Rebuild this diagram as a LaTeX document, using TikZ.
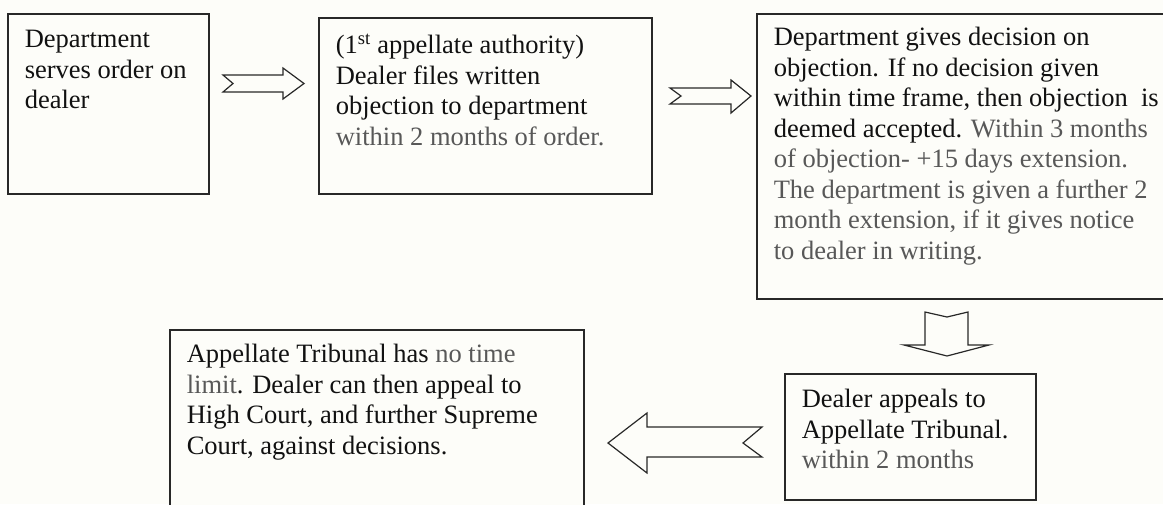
\documentclass[tikz,border=0pt]{standalone}
\usepackage{fontspec}
\setmainfont{Liberation Serif}
\definecolor{bg}{RGB}{253,253,249}
\definecolor{txt}{RGB}{17,17,17}
\definecolor{gr}{RGB}{88,88,88}
\definecolor{edge}{RGB}{40,40,40}
\newcommand{\gtx}[1]{\textcolor{gr}{#1}}
\newcommand{\boxtext}[4]{\parbox[t][#2pt][t]{#1pt}{\raggedright\fontsize{26.5}{30.5}\selectfont\color{txt}\rule{0pt}{#3pt}#4}}
\tikzset{
  stepbox/.style={draw=edge, line width=1.6pt, fill=bg, anchor=north west, inner xsep=17pt, inner ysep=0pt},
  blockarrow/.style={draw=edge, line width=1.2pt, fill=bg, line join=miter}
}
\begin{document}
\begin{tikzpicture}[x=1pt,y=-1pt]
\useasboundingbox (0,0) rectangle (1163,504);
\fill[bg] (0,0) rectangle (1163,504);
\clip (0,0) rectangle (1163,504);

\node[stepbox] (b1) at (7,13) {\boxtext{167}{180}{34}{Department\\serves order on\\dealer}};
\node[stepbox] (b2) at (318,17) {\boxtext{299}{176}{36}{(1\textsuperscript{st} appellate authority)\\Dealer files written\\objection to department\\\gtx{within 2 months of order.}}};
\node[stepbox] (b3) at (756,13) {\boxtext{392}{285}{32}{Department gives decision on\\objection. If no decision given\\within time frame, then objection\ \ is\\deemed accepted. \gtx{Within 3 months}\\\gtx{of objection- +15 days extension.}\\\gtx{The department is given a further 2}\\\gtx{month extension, if it gives notice}\\\gtx{to dealer in writing.}}};
\node[stepbox] (b4) at (784,373) {\boxtext{217}{126}{34}{Dealer appeals to\\Appellate Tribunal.\\\gtx{within 2 months}}};
\node[stepbox] (b5) at (169,329) {\boxtext{380}{190}{33}{Appellate Tribunal has \gtx{no time}\\\gtx{limit}. Dealer can then appeal to\\High Court, and further Supreme\\Court, against decisions.}};

% block arrows between the boxes
\draw[blockarrow] (223,75) -- (283,75) -- (283,68) -- (304,83.5) -- (283,99) -- (283,92) -- (223,92) -- (233,83.5) -- cycle;
\draw[blockarrow] (670,88) -- (731,88) -- (731,80) -- (751,96) -- (731,113) -- (731,104) -- (670,104) -- (681,96) -- cycle;
\draw[blockarrow] (925,312) -- (947,317) -- (968,312) -- (968,345) -- (989,345) -- (947,356) -- (904,345) -- (925,345) -- cycle;
\draw[blockarrow] (762,427) -- (647,427) -- (647,413) -- (608,443) -- (647,473) -- (647,457) -- (762,457) -- (743,443) -- cycle;
\end{tikzpicture}
\end{document}
